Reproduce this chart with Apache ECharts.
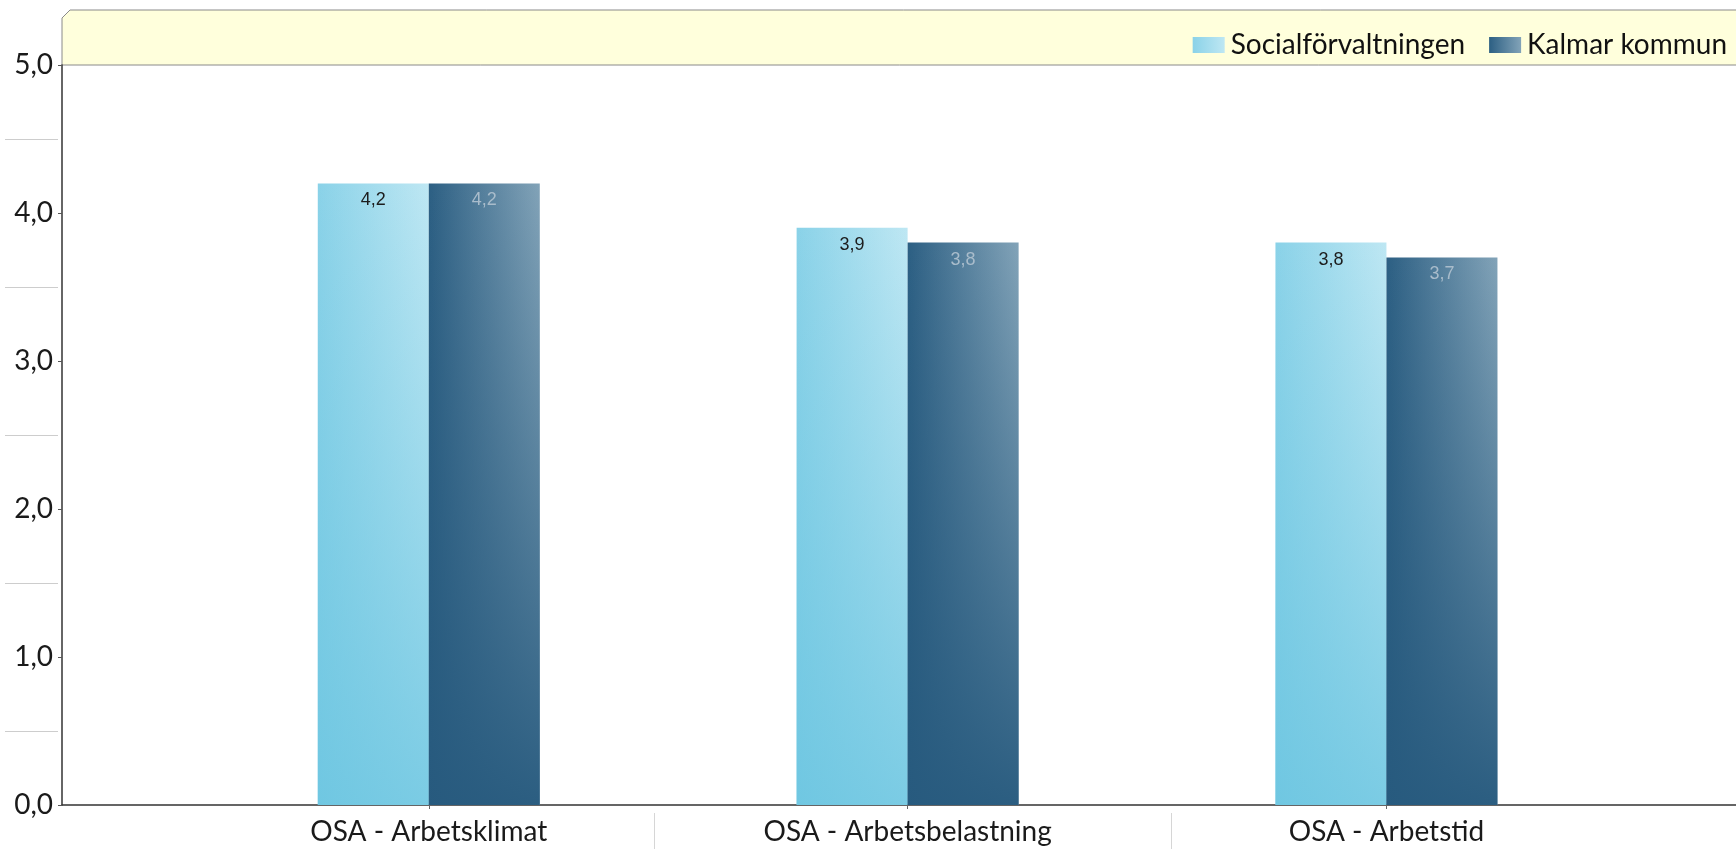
<!DOCTYPE html>
<html>
<head>
<meta charset="utf-8">
<style>
  html, body { margin: 0; padding: 0; background: #fff; }
  #chart { width: 1736px; height: 849px; }
</style>
<script src="https://cdn.jsdelivr.net/npm/echarts@6/dist/echarts.min.js"></script>
</head>
<body>
<div id="chart"></div>
<script>
// Survey indices (scale 0–5)
const categories = ['OSA - Arbetsklimat', 'OSA - Arbetsbelastning', 'OSA - Arbetstid'];
const seriesNames = ['Socialförvaltningen', 'Kalmar kommun'];
const socialValues = [4.2, 3.9, 3.8];
const kalmarValues = [4.2, 3.8, 3.7];
const yMinorTicks = [0.5, 1.5, 2.5, 3.5, 4.5];
const labelDividers = [0.47, 1.55];

const fmt = v => v.toFixed(1).replace('.', ',');
const FONT = 'Lato, "Open Sans", sans-serif';
const LABEL_FONT = 'Arial, "Liberation Sans", sans-serif';

const chart = echarts.init(document.getElementById('chart'));

// left-to-right sheen of each bar (strongest near the top)
function hGrad(c0, c1) {
  return new echarts.graphic.LinearGradient(0, 0, 1, 0, [
    { offset: 0, color: c0 },
    { offset: 1, color: c1 }
  ]);
}
// solid base colour rising from the bottom and fading out towards the top
function vFade(rgb, alpha) {
  return new echarts.graphic.LinearGradient(0, 1, 0, 0, [
    { offset: 0, color: 'rgba(' + rgb + ',' + alpha + ')' },
    { offset: 1, color: 'rgba(' + rgb + ',0)' }
  ]);
}

const catIdx = categories.map((_, i) => i);
const xRange = { min: -0.766, max: 2.73 };

function barLabel(color) {
  return {
    show: true,
    position: 'insideTop',
    distance: 8,
    formatter: p => fmt(p.value[1]),
    fontFamily: LABEL_FONT,
    fontSize: 18,
    color: color
  };
}

chart.setOption({
  animation: false,
  backgroundColor: '#ffffff',
  graphic: [{
    type: 'polygon',
    z: -1,
    shape: { points: [[62, 18], [70, 10], [1740, 10], [1740, 65], [62, 65]] },
    style: { fill: '#FFFFDC', stroke: '#8a8a8a', lineWidth: 1 }
  }],
  legend: {
    right: 4,
    top: 26,
    icon: 'rect',
    itemWidth: 32,
    itemHeight: 16,
    itemGap: 24,
    textStyle: { fontFamily: FONT, fontSize: 28, color: '#111', padding: [0, 0, 0, 1] },
    data: seriesNames
  },
  grid: { left: 62, right: 0, top: 65, bottom: 44, containLabel: false },
  xAxis: [{
    type: 'value',
    min: xRange.min,
    max: xRange.max,
    position: 'bottom',
    axisLine: { show: true, onZero: false, lineStyle: { color: '#333', width: 1.5 } },
    axisTick: { show: true, customValues: catIdx, length: 4, lineStyle: { color: '#666' } },
    axisLabel: {
      show: true,
      customValues: catIdx,
      formatter: v => categories[Math.round(v)],
      fontFamily: FONT,
      fontSize: 28,
      color: '#1a1a1a',
      margin: 13
    },
    splitLine: { show: false }
  }, {
    type: 'value',
    min: xRange.min,
    max: xRange.max,
    position: 'bottom',
    offset: 8,
    axisLine: { show: false, onZero: false },
    axisTick: { show: true, customValues: labelDividers, length: 40, lineStyle: { color: '#d6d6d6' } },
    axisLabel: { show: false },
    splitLine: { show: false }
  }],
  yAxis: [{
    type: 'value',
    min: 0,
    max: 5,
    interval: 1,
    position: 'left',
    axisLine: { show: true, onZero: false, lineStyle: { color: '#333', width: 1.5 } },
    axisTick: { show: true, length: 4, lineStyle: { color: '#555' } },
    axisLabel: {
      formatter: fmt,
      fontFamily: FONT,
      fontSize: 28,
      color: '#1a1a1a',
      margin: 9
    },
    splitLine: { show: false }
  }, {
    type: 'value',
    min: 0,
    max: 5,
    position: 'left',
    offset: 4,
    axisLine: { show: false, onZero: false },
    axisTick: { show: true, customValues: yMinorTicks, length: 53, lineStyle: { color: '#cdcdcd' } },
    axisLabel: { show: false },
    splitLine: { show: false }
  }],
  series: [{
    name: seriesNames[0],
    type: 'bar',
    xAxisIndex: 0,
    barWidth: 111,
    barGap: '0%',
    data: socialValues.map((v, i) => [i, v]),
    itemStyle: { color: hGrad('#8AD2E8', '#BEE7F3') }
  }, {
    name: seriesNames[1],
    type: 'bar',
    xAxisIndex: 0,
    barWidth: 111,
    barGap: '0%',
    data: kalmarValues.map((v, i) => [i, v]),
    itemStyle: { color: hGrad('#2C5F83', '#82A3B8') }
  }, {
    name: seriesNames[0],
    type: 'bar',
    xAxisIndex: 1,
    barWidth: 111,
    barGap: '0%',
    silent: true,
    data: socialValues.map((v, i) => [i, v]),
    itemStyle: { color: vFade('104,196,224', 0.78) },
    label: barLabel('#1c1c1c')
  }, {
    name: seriesNames[1],
    type: 'bar',
    xAxisIndex: 1,
    barWidth: 111,
    barGap: '0%',
    silent: true,
    data: kalmarValues.map((v, i) => [i, v]),
    itemStyle: { color: vFade('39,90,126', 0.95) },
    label: barLabel('#A9BCCB')
  }]
});
</script>
</body>
</html>
